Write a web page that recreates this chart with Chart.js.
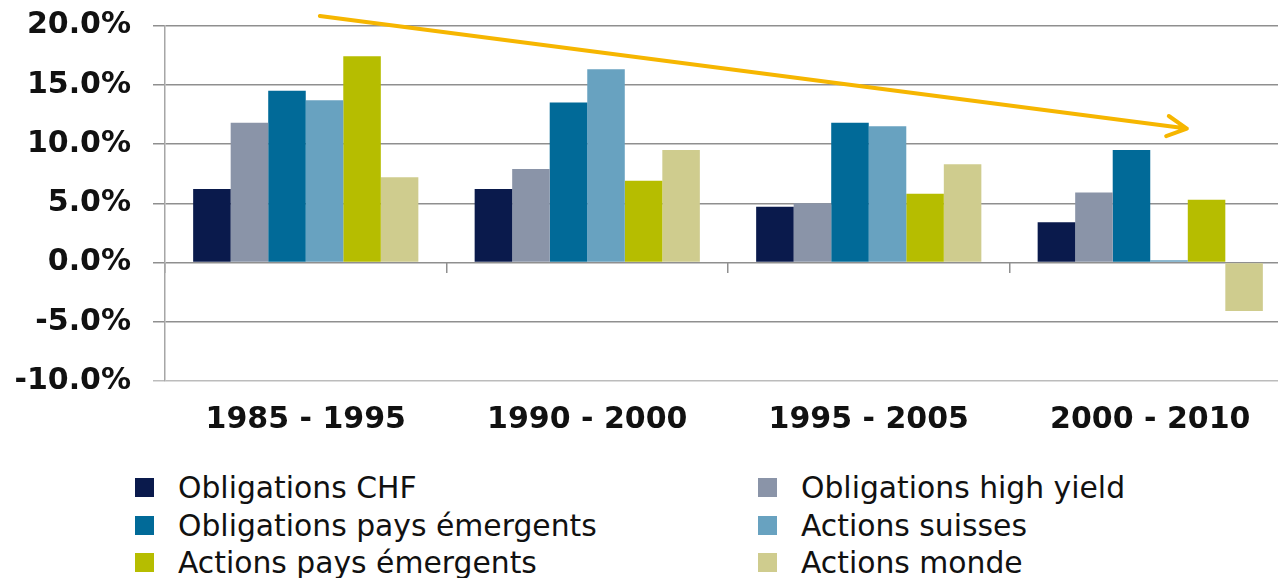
<!DOCTYPE html>
<html>
<head>
<meta charset="utf-8">
<script src="https://cdn.jsdelivr.net/npm/chart.js@4.4.1/dist/chart.umd.min.js"></script>
<style>
  html, body { margin: 0; padding: 0; background: #fff; overflow: hidden; }
  #wrap { position: relative; width: 1278px; height: 578px; overflow: hidden; }
  #returns { position: absolute; left: 0; top: 0; }
  #legend {
    position: absolute; left: 135px; top: 469px;
    display: grid; grid-template-columns: 623px 500px; grid-auto-rows: 37.5px;
    font-family: "DejaVu Sans", sans-serif; font-size: 29.8px; color: #111;
  }
  #legend .item { display: flex; align-items: center; white-space: nowrap; }
  #legend .swatch { width: 19px; height: 19px; margin-right: 24px; flex: none; }
</style>
</head>
<body>
<div id="wrap">
  <canvas id="returns" width="1300" height="441"></canvas>
  <div id="legend"></div>
</div>
<script>
Chart.defaults.animation = false;

// ---- data ----
const periods = ["1985 - 1995", "1990 - 2000", "1995 - 2005", "2000 - 2010"];

const obligationsCHF      = [6.2, 6.2, 4.7, 3.4];
const obligationsHY       = [11.8, 7.9, 5.0, 5.9];
const obligationsEmerg    = [14.5, 13.5, 11.8, 9.5];
const actionsSuisses      = [13.7, 16.3, 11.5, 0.2];
const actionsEmerg        = [17.4, 6.9, 5.8, 5.3];
const actionsMonde        = [7.2, 9.5, 8.3, -4.1];

const yTicks = [-10, -5, 0, 5, 10, 15, 20];

// trend arrow, in (category index, %) units
const trendFrom = [0.05, 20.8];
const trendTo = [3.13, 11.3];

const series = [
  { label: "Obligations CHF", data: obligationsCHF, color: "#0a1a4c" },
  { label: "Obligations high yield", data: obligationsHY, color: "#8a94a8" },
  { label: "Obligations pays émergents", data: obligationsEmerg, color: "#016a98" },
  { label: "Actions suisses", data: actionsSuisses, color: "#68a2c0" },
  { label: "Actions pays émergents", data: actionsEmerg, color: "#b6bd00" },
  { label: "Actions monde", data: actionsMonde, color: "#cfcc8e" }
];

// ---- trend arrow plugin ----
const trendArrow = {
  id: "trendArrow",
  afterDatasetsDraw(chart) {
    const { ctx, scales } = chart;
    const x1 = scales.x.getPixelForValue(trendFrom[0]);
    const y1 = scales.y.getPixelForValue(trendFrom[1]);
    const x2 = scales.x.getPixelForValue(trendTo[0]);
    const y2 = scales.y.getPixelForValue(trendTo[1]);
    const ang = Math.atan2(y2 - y1, x2 - x1);
    const head = 22, spread = 0.48;
    ctx.save();
    ctx.strokeStyle = "#f6b600";
    ctx.lineWidth = 4;
    ctx.lineCap = "round";
    ctx.lineJoin = "round";
    ctx.beginPath();
    ctx.moveTo(x1, y1);
    ctx.lineTo(x2, y2);
    ctx.moveTo(x2 - head * Math.cos(ang - spread), y2 - head * Math.sin(ang - spread));
    ctx.lineTo(x2, y2);
    ctx.lineTo(x2 - head * Math.cos(ang + spread), y2 - head * Math.sin(ang + spread));
    ctx.stroke();
    ctx.restore();
  }
};

const chart = new Chart(document.getElementById("returns"), {
  type: "bar",
  data: {
    labels: periods,
    datasets: series.map(s => ({
      label: s.label,
      data: s.data,
      backgroundColor: s.color,
      borderWidth: 0,
      xAxisID: "x",
      categoryPercentage: 0.8,
      barPercentage: 1.0
    }))
  },
  options: {
    responsive: false,
    layout: { padding: { top: 25.5, right: 9, bottom: 0, left: 0 } },
    plugins: {
      legend: { display: false },
      tooltip: { enabled: false }
    },
    scales: {
      y: {
        min: -10,
        max: 20,
        afterFit(scale) {
          scale.width = 165;
          scale.paddingTop = 0;
          scale.paddingBottom = 0;
        },
        afterBuildTicks(scale) { scale.ticks = yTicks.map(v => ({ value: v })); },
        border: { display: true, color: "#a6a6a6", width: 1.5 },
        grid: {
          color: ctx => ctx.tick && ctx.tick.value === -10 ? "#bcbcbc" : "#8f8f8f",
          lineWidth: 1.5,
          tickLength: 12
        },
        ticks: {
          padding: 22,
          color: "#111",
          font: { family: "DejaVu Sans", size: 30, weight: "bold" },
          callback: v => v.toFixed(1) + "%"
        }
      },
      x: {
        position: "bottom",
        afterFit(scale) { scale.height = 60; },
        grid: { display: false },
        border: { display: false },
        ticks: {
          padding: 13,
          color: "#111",
          maxRotation: 0,
          font: { family: "DejaVu Sans", size: 30, weight: "bold" }
        }
      },
      // tick marks between periods, sitting on the zero line
      xZero: {
        type: "category",
        labels: periods,
        position: { y: 0 },
        border: { display: false },
        grid: {
          offset: true,
          drawOnChartArea: false,
          drawTicks: true,
          tickLength: 10,
          color: "#8f8f8f",
          lineWidth: 1.5
        },
        ticks: { display: false }
      }
    }
  },
  plugins: [trendArrow]
});

// ---- legend, two columns ----
const legendEl = document.getElementById("legend");
series.forEach(s => {
  const item = document.createElement("div");
  item.className = "item";
  const sw = document.createElement("span");
  sw.className = "swatch";
  sw.style.background = s.color;
  const txt = document.createElement("span");
  txt.textContent = s.label;
  item.appendChild(sw);
  item.appendChild(txt);
  legendEl.appendChild(item);
});
</script>
</body>
</html>
